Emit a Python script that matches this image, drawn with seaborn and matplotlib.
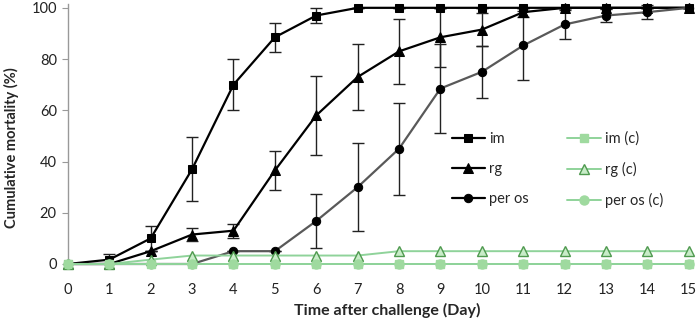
import numpy as np
import pandas as pd
import matplotlib
matplotlib.use("Agg")
import matplotlib.pyplot as plt
import seaborn as sns

days = list(range(16))
im = [0, 1.7, 10, 37, 70, 88.5, 97, 100, 100, 100, 100, 100, 100, 100, 100, 100]
im_err = [0, 2.3, 5, 12.5, 10, 5.7, 2.8, 0, 0, 0, 0, 0, 0, 0, 0, 0]
rg = [0, 0, 5, 11.5, 13, 36.5, 58, 73, 83, 88.5, 91.5, 98.3, 100, 100, 100, 100]
rg_err = [0, 0, 0, 2.7, 2.7, 7.6, 15.3, 12.8, 12.7, 11.5, 6.3, 1.7, 0, 0, 0, 0]
peros = [0, 0, 0, 0, 5, 5, 16.8, 30, 45, 68.5, 75, 85.3, 93.5, 97, 98.3, 100]
peros_err = [0, 0, 0, 0, 0, 0, 10.4, 17.2, 18, 17.4, 10.2, 13.5, 5.8, 2.6, 2.7, 0]
im_c = [0] * 16
rg_c = [0, 0, 1.7, 3.3, 3.3, 3.3, 3.3, 3.3, 5, 5, 5, 5, 5, 5, 5, 5]
peros_c = [0] * 16

sns.set_style("white")
plt.rcParams['font.family'] = ['Lato', 'DejaVu Sans']

fig = plt.figure(figsize=(7, 3.21), dpi=100)
ax = fig.add_axes([0.097, 0.1776, 0.887, 0.81])

green_line = '#8fd39a'
green_fill = '#9fda9f'

series = [
    ("im", im, im_err, 's', 'black', 'black', 'black', 5.5),
    ("rg", rg, rg_err, '^', 'black', 'black', 'black', 7),
    ("per os", peros, peros_err, 'o', '#595959', 'black', 'black', 6),
]
for name, vals, err, mk, lc, mfc, mec, ms in series:
    df = pd.DataFrame({"day": days, "val": vals})
    ax.errorbar(days, vals, yerr=err, fmt='none', ecolor='#222222', elinewidth=1,
                capsize=4, capthick=1, zorder=2)
    sns.lineplot(data=df, x="day", y="val", ax=ax, color=lc, marker=mk, markersize=ms,
                 markerfacecolor=mfc, markeredgecolor=mec, linewidth=1.6, label=name,
                 zorder=3, clip_on=False)

ctrl = [
    ("im (c)", im_c, 's', green_fill, green_fill, 5.5),
    ("rg (c)", rg_c, '^', '#c8ecc8', '#4f9a4f', 6.5),
    ("per os (c)", peros_c, 'o', green_fill, green_fill, 6.5),
]
for name, vals, mk, mfc, mec, ms in ctrl:
    df = pd.DataFrame({"day": days, "val": vals})
    sns.lineplot(data=df, x="day", y="val", ax=ax, color=green_line, marker=mk, markersize=ms,
                 markerfacecolor=mfc, markeredgecolor=mec, markeredgewidth=1,
                 linewidth=1.4, label=name, zorder=4, clip_on=False)

ax.set_xlim(0, 15)
ax.set_ylim(0, 101.5)
ax.set_xticks(range(16))
ax.set_yticks(range(0, 101, 20))
ax.tick_params(axis='both', labelsize=10.5, colors='#222222')
ax.tick_params(axis='y', length=4, width=0.8, color='#999999', left=True, pad=4)
ax.tick_params(axis='x', length=0, pad=14)
for s in ['top', 'right', 'bottom']:
    ax.spines[s].set_visible(False)
ax.spines['left'].set_color('#999999')
ax.spines['left'].set_linewidth(1)

ax.set_xlabel("Time after challenge (Day)", fontsize=11.5, fontweight='bold')
ax.set_ylabel("Cumulative mortality (%)", fontsize=10.5, fontweight='bold')
ax.xaxis.set_label_coords(0.515, -0.148)
ax.yaxis.set_label_coords(-0.078, 0.446)

h, l = ax.get_legend_handles_labels()
leg = ax.legend(h, l,
          ncol=2, frameon=False, loc='upper left', bbox_to_anchor=(0.645, 0.59),
          bbox_transform=fig.transFigure, fontsize=10.5, handlelength=2.3,
          labelspacing=1.1, columnspacing=2.6, borderpad=0, borderaxespad=0,
          handletextpad=0.3)
leg.legend_handles[2].set_color('black')

fig.savefig("out.png", dpi=100)
